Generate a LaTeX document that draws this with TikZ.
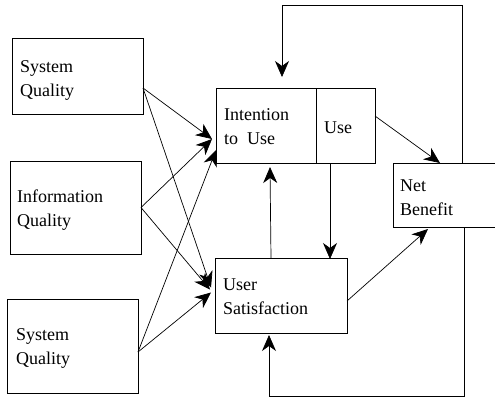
\documentclass[tikz,border=0pt]{standalone}
\usepackage{fontspec}
\setmainfont{Liberation Serif}
\usetikzlibrary{arrows.meta}
\tikzset{
  box/.style={draw, rectangle, line width=0.9pt, inner sep=0pt, outer sep=0pt},
  lbl/.style={anchor=base west, align=left, inner sep=0pt, font=\fontsize{18}{24}\selectfont},
  arr/.style={line width=0.7pt, -{Stealth[length=16pt,width=14pt,inset=5pt]}}
}
\begin{document}
\begin{tikzpicture}[x=1pt,y=-1pt]
\useasboundingbox (0,0) rectangle (495,397);
\clip (0,0) rectangle (495,397);
% boxes
\node[box, minimum width=131pt, minimum height=76pt] (sq1) at (77.5,76) {};
\node[box, minimum width=131pt, minimum height=93pt] (info) at (75.5,207.5) {};
\node[box, minimum width=131pt, minimum height=94pt] (sq3) at (72.5,346) {};
\node[box, minimum width=100pt, minimum height=75pt] (int) at (266,125.5) {};
\node[box, minimum width=59pt, minimum height=75pt] (use) at (345.5,125.5) {};
\node[box, minimum width=150pt, minimum height=64pt] (net) at (468,195) {};
\node[box, minimum width=132pt, minimum height=75pt] (us) at (281,295.5) {};
% texts (anchored at the baseline of the last line)
\node[lbl] (t1) at (20,96) {System\\Quality};
\node[lbl] (t2) at (17,226) {Information\\Quality};
\node[lbl] (t3) at (16,364) {System\\Quality};
\node[lbl] (t4) at (224,144) {Intention\\to\ \ Use};
\node[lbl] (t5) at (324,133) {Use};
\node[lbl] (t6) at (400,215) {Net\\Benefit};
\node[lbl] (t7) at (223,314) {User\\Satisfaction};
% left connectors
\draw[arr] ([yshift=-12pt]sq1.east) -- ([shift={(-4pt,24pt)}]int.south west);
\draw[arr] ([yshift=-12pt]sq1.east) -- ([shift={(-4pt,8pt)}]us.west);
\draw[arr] (info.east) -- ([shift={(-4pt,24pt)}]int.south west);
\draw[arr] (info.east) -- ([shift={(-5pt,6pt)}]us.west);
\draw[arr] ([yshift=-6pt]sq3.east) -- ([shift={(0pt,13pt)}]int.south west);
\draw[arr] ([yshift=-6pt]sq3.east) -- ([shift={(-4pt,3pt)}]us.west);
% middle connectors
\draw[arr] ([xshift=-15.5pt]use.south) -- ([shift={(49pt,-1pt)}]us.north);
\draw[arr] ([xshift=-10pt]us.north) -- ([shift={(4pt,-4pt)}]int.south);
\draw[arr] ([yshift=9.5pt]use.east) -- ([xshift=-28pt]net.north);
\draw[arr] ([yshift=-5.5pt]us.east) -- ([shift={(-40pt,-2pt)}]net.south);
% feedback loops
\coordinate (tl) at (282,5);
\coordinate (bl) at (269,396);
\draw[arr] ([xshift=-6pt]net.north) |- (tl) -- ([shift={(16pt,11pt)}]int.north);
\draw[arr] ([xshift=-4pt]net.south) |- (bl) -- ([shift={(-12pt,-2pt)}]us.south);
\end{tikzpicture}
\end{document}
